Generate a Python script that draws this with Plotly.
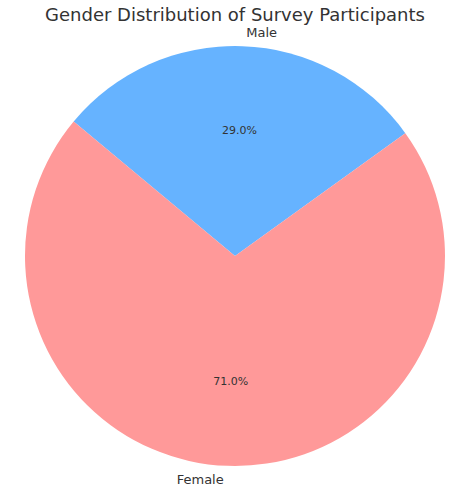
import plotly.graph_objects as go

labels = ["Male", "Female"]
values = [29.0, 71.0]
colors = ["#66b3ff", "#ff9999"]
title_text = "Gender Distribution of Survey Participants"

W, H = 458, 491
cx, cy, r = 235, 256, 210
r_lab = 216


def dom(rad):
    return dict(x=[(cx - rad) / W, (cx + rad) / W], y=[(H - cy - rad) / H, (H - cy + rad) / H])


clear = ["rgba(0,0,0,0)"] * len(labels)
common = dict(labels=labels, values=values, sort=False, direction="clockwise", rotation=-50.2,
              showlegend=False, hoverinfo="skip")

fig = go.Figure()
# coloured wedges
fig.add_trace(go.Pie(
    **common, marker=dict(colors=colors, line=dict(width=0)),
    textinfo="none", domain=dom(r),
))
# percentage text inside
fig.add_trace(go.Pie(
    **common, hole=0.2,
    marker=dict(colors=clear, line=dict(width=0)),
    texttemplate="%{percent:.1%}", textposition="inside", insidetextorientation="horizontal",
    insidetextfont=dict(family="DejaVu Sans", size=11, color="#333333"),
    domain=dom(r),
))
# category labels outside
fig.add_trace(go.Pie(
    **common, marker=dict(colors=clear, line=dict(width=0)),
    texttemplate="%{label}", textposition="outside",
    outsidetextfont=dict(family="DejaVu Sans", size=13, color="#333333"),
    domain=dom(r_lab),
))
fig.update_layout(
    width=W, height=H,
    margin=dict(l=0, r=0, t=0, b=0),
    paper_bgcolor="white", plot_bgcolor="white",
    title=dict(text=title_text, x=235 / W, xanchor="center", y=1 - 15 / H, yanchor="middle",
               xref="paper", yref="container",
               font=dict(family="DejaVu Sans", size=18, color="#333333")),
)
fig.write_html("out.html")
